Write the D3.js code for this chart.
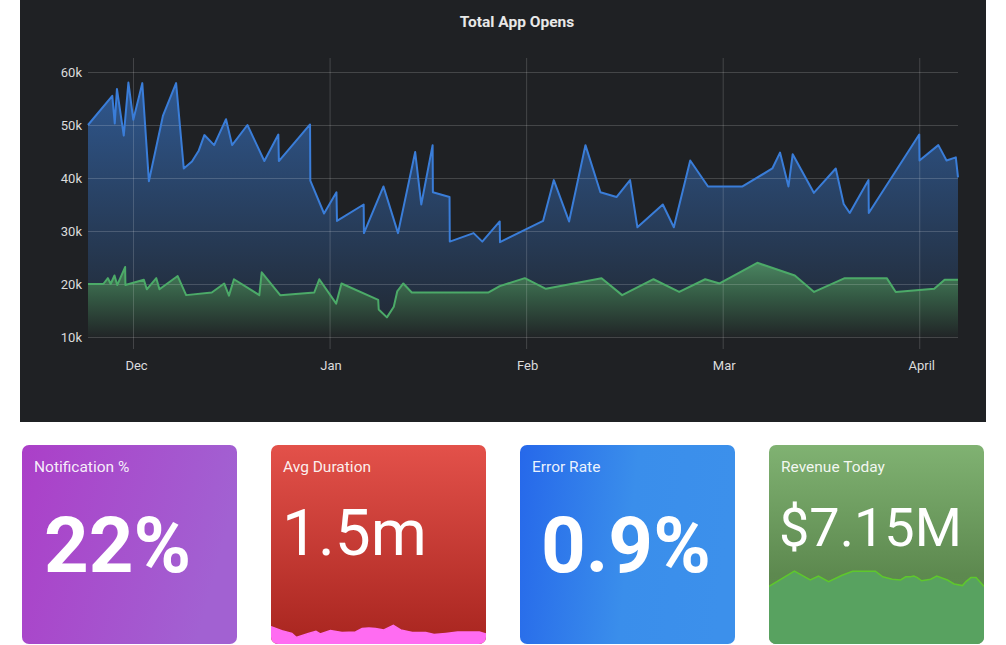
<!DOCTYPE html>
<html><head><meta charset="utf-8">
<script src="https://cdn.jsdelivr.net/npm/d3@7"></script>
<style>
html,body{margin:0;padding:0;background:#fff;}
svg{display:block;font-family:Roboto,"Noto Sans",sans-serif;}
</style></head><body>
<svg id="chart" width="1006" height="645"></svg>
<script>
// ---------- data ----------
const openDates = ["2019-11-24 03","2019-11-27 20","2019-11-28 05","2019-11-28 13","2019-11-29 14","2019-11-30 07","2019-12-01 01","2019-12-02 11","2019-12-03 12","2019-12-05 17","2019-12-07 19","2019-12-09 00","2019-12-10 07","2019-12-11 09","2019-12-12 06","2019-12-13 19","2019-12-15 16","2019-12-16 15","2019-12-19 01","2019-12-21 17","2019-12-23 22","2019-12-24 00","2019-12-28 22","2019-12-28 23","2019-12-31 03","2020-01-02 02","2020-01-02 04","2020-01-06 09","2020-01-06 10","2020-01-09 12","2020-01-11 19","2020-01-14 12","2020-01-15 11","2020-01-17 06","2020-01-17 07","2020-01-19 22","2020-01-19 23","2020-01-23 17","2020-01-25 02","2020-01-27 20","2020-01-27 21","2020-02-03 12","2020-02-05 02","2020-02-07 08","2020-02-09 18","2020-02-11 23","2020-02-14 08","2020-02-16 08","2020-02-17 10","2020-02-21 04","2020-02-22 19","2020-02-25 05","2020-02-27 20","2020-03-04 03","2020-03-08 20","2020-03-10 01","2020-03-11 09","2020-03-12 01","2020-03-15 09","2020-03-18 20","2020-03-20 02","2020-03-21 01","2020-03-24 00","2020-03-24 01","2020-04-01 00","2020-04-01 01","2020-04-03 22","2020-04-05 04","2020-04-06 14","2020-04-06 22"];
const openValues = [50000,55500,50300,56800,48000,58000,51000,57900,39400,51700,57900,41800,43100,45200,48100,46200,51100,46200,50000,43200,48200,43200,50100,39500,33300,37300,31900,35000,29600,38400,29600,44900,35000,46200,37300,36400,28000,29600,28000,31800,27900,31900,39600,31800,46200,37300,36400,39600,30700,35000,30700,43300,38400,38400,41800,44800,38400,44500,37200,41800,35100,33400,39600,33400,48200,43300,46200,43300,43900,40100];

const pushDates = ["2019-11-24 03","2019-11-26 11","2019-11-27 04","2019-11-27 14","2019-11-28 04","2019-11-28 14","2019-11-29 19","2019-11-29 20","2019-12-02 17","2019-12-03 04","2019-12-04 16","2019-12-05 04","2019-12-08 01","2019-12-09 09","2019-12-13 10","2019-12-15 09","2019-12-16 03","2019-12-16 22","2019-12-20 22","2019-12-21 07","2019-12-24 05","2019-12-29 14","2019-12-30 09","2020-01-02 01","2020-01-02 21","2020-01-08 16","2020-01-08 18","2020-01-10 01","2020-01-11 03","2020-01-11 16","2020-01-12 15","2020-01-13 23","2020-01-26 02","2020-01-27 20","2020-01-29 03","2020-01-31 19","2020-02-03 22","2020-02-12 03","2020-02-15 04","2020-02-19 19","2020-02-23 14","2020-02-27 10","2020-02-29 13","2020-03-06 11","2020-03-12 09","2020-03-15 10","2020-03-20 06","2020-03-26 21","2020-03-28 07","2020-04-03 07","2020-04-04 21","2020-04-06 22"];
const pushValues = [20000,20000,21100,20000,21600,19800,23200,19800,20800,19000,21100,19000,21500,17900,18400,20100,17800,20900,17900,22200,17900,18400,20900,16300,20100,17000,15200,13700,15700,18600,20100,18400,18400,19600,20100,21100,19100,21100,17900,20900,18500,20900,20100,24000,21600,18500,21100,21100,18500,19100,20800,20800];

const yTickValues = [10000,20000,30000,40000,50000,60000];
const yTickLabels = ["10k","20k","30k","40k","50k","60k"];
const monthTickDates = ["2019-12-01 00","2020-01-01 00","2020-02-01 00","2020-03-01 00","2020-04-01 00"];
const monthTickLabels = ["Dec","Jan","Feb","Mar","April"];
const chartTitle = "Total App Opens";

const cardTitles = ["Notification %","Avg Duration","Error Rate","Revenue Today"];
const cardValues = ["22%","1.5m","0.9%","$7.15M"];

const durationSparkT = [0,5,9.7,11.7,17.4,20.9,22.9,27.6,33,39.3,42.4,45.5,48.6,52.5,56.9,60.3,65.7,72,75.8,81.3,86.8,96.9,100];
const durationSparkV = [87,67,53,33,53,63,50,67,57,60,77,80,77,70,93,70,57,57,47,53,60,60,50];
const revenueSparkT = [0,11.8,19.2,23,27.7,34,38.9,49.5,52.9,57.3,61.2,63.6,65.9,67.4,69,71,75.2,78,83,86.1,90,91.6,93.9,96.3,100];
const revenueSparkV = [72,91,80,85,78,86,91,91,84,81,80,84,84,85,83,79,81,85,80,75,73,78,83,83,72];

// ---------- layout / styles ----------
const svg = d3.select("#chart");
const defs = svg.append("defs");
const parse = d3.utcParse("%Y-%m-%d %H");

function monthPos(d){
  const m0 = d3.utcMonth.floor(d), m1 = d3.utcMonth.offset(m0,1);
  const idx = (m0.getUTCFullYear()-2019)*12 + m0.getUTCMonth() - 11;
  return idx + (d - m0)/(m1 - m0);
}

const openData = openDates.map((d,i)=>({p:monthPos(parse(d)), v:openValues[i]}));
const pushData = pushDates.map((d,i)=>({p:monthPos(parse(d)), v:pushValues[i]}));

const plot = {left:88, right:958, top:72, bottom:337};
const x = d3.scaleLinear()
  .domain([openData[0].p, openData[openData.length-1].p])
  .range([plot.left, plot.right]);
const y = d3.scaleLinear().domain([10000,60000]).range([plot.bottom, plot.top]);

// panel
svg.append("rect").attr("x",20).attr("y",0).attr("width",966).attr("height",422).attr("fill","#1f2124");

svg.append("text").attr("x",517).attr("y",27).attr("text-anchor","middle")
  .attr("fill","#e8e8e8").attr("font-size",15.5).attr("font-weight",700).text(chartTitle);

// gradients
const gBlue = defs.append("linearGradient").attr("id","gBlue").attr("gradientUnits","userSpaceOnUse")
  .attr("x1",0).attr("x2",0).attr("y1",plot.top).attr("y2",plot.bottom);
gBlue.append("stop").attr("offset",0).attr("stop-color","#3a7dd8").attr("stop-opacity",0.62);
gBlue.append("stop").attr("offset",1).attr("stop-color","#3a7dd8").attr("stop-opacity",0.07);

const gGreen = defs.append("linearGradient").attr("id","gGreen").attr("gradientUnits","userSpaceOnUse")
  .attr("x1",0).attr("x2",0).attr("y1",y(24000)).attr("y2",plot.bottom);
gGreen.append("stop").attr("offset",0).attr("stop-color","#4a8460");
gGreen.append("stop").attr("offset",0.45).attr("stop-color","#345a44");
gGreen.append("stop").attr("offset",1).attr("stop-color","#212527");

const area = d3.area().x(d=>x(d.p)).y0(y(10000)).y1(d=>y(d.v));
const line = d3.line().x(d=>x(d.p)).y(d=>y(d.v));

svg.append("path").datum(openData).attr("d",area).attr("fill","url(#gBlue)");
svg.append("path").datum(pushData).attr("d",area).attr("fill","url(#gGreen)");

// grid
const yAxis = d3.axisLeft(y).tickValues(yTickValues).tickFormat((d,i)=>yTickLabels[i])
  .tickSize(-(plot.right-plot.left)).tickPadding(6);
const gy = svg.append("g").attr("transform",`translate(${plot.left},0)`).call(yAxis);
gy.select(".domain").remove();
gy.selectAll("line").attr("stroke","#fff").attr("stroke-opacity",0.17);
gy.selectAll("text").attr("fill","#dcdcdc").attr("font-size",13).attr("font-family","Roboto");

const monthPositions = monthTickDates.map(d=>monthPos(parse(d)));
const xAxis = d3.axisBottom(x).tickValues(monthPositions).tickFormat((d,i)=>monthTickLabels[i])
  .tickSize(-(349-58)).tickPadding(12);
const gx = svg.append("g").attr("transform",`translate(0,349)`).call(xAxis);
gx.select(".domain").remove();
gx.selectAll("line").attr("stroke","#fff").attr("stroke-opacity",0.17);
gx.selectAll("text").attr("fill","#dcdcdc").attr("font-size",13).attr("font-family","Roboto")
  .attr("dx",(d,i)=> i===0 ? 3 : (i===4 ? 2 : 1));

svg.append("path").datum(openData).attr("d",line).attr("fill","none").attr("stroke","#3a7dd8").attr("stroke-width",2).attr("stroke-linejoin","round");
svg.append("path").datum(pushData).attr("d",line).attr("fill","none").attr("stroke","#4caa68").attr("stroke-width",2).attr("stroke-linejoin","round");

// ---------- cards ----------
const card = {x0:22, step:249, y:445, w:215, h:199, r:7};
const cardStyles = [
  {grad:[["#ab3fc8",0],["#a261d2",1]], dir:[0,0,1,0.25], weight:700, size:78, dx:22, by:572},
  {grad:[["#e3514a",0],["#a8251f",1]], dir:[0,0,0,1], weight:400, size:64, dx:11, by:555},
  {grad:[["#2668ea",0],["#3a8eeb",0.55],["#3c90eb",1]], dir:[0,0,1,0.1], weight:700, size:78, dx:21, by:572},
  {grad:[["#80b272",0],["#5d894f",0.65],["#5a854c",1]], dir:[0,0,0,1], weight:400, size:54, dx:10, by:546}
];
const sparks = [null,
  {t:durationSparkT, v:durationSparkV, h:20, fill:"#ff6cf2", stroke:"#ff6cf2"},
  null,
  {t:revenueSparkT, v:revenueSparkV, h:80, fill:"#58a260", stroke:"#5ec82c"}];

cardTitles.forEach((title,i)=>{
  const cx = card.x0 + i*card.step, st = cardStyles[i];
  const g = svg.append("g");
  const gr = defs.append("linearGradient").attr("id","card"+i)
    .attr("x1",st.dir[0]).attr("y1",st.dir[1]).attr("x2",st.dir[2]).attr("y2",st.dir[3]);
  st.grad.forEach(s=>gr.append("stop").attr("offset",s[1]).attr("stop-color",s[0]));
  defs.append("clipPath").attr("id","clip"+i).append("rect")
    .attr("x",cx).attr("y",card.y).attr("width",card.w).attr("height",card.h).attr("rx",card.r);
  g.append("rect").attr("x",cx).attr("y",card.y).attr("width",card.w).attr("height",card.h)
    .attr("rx",card.r).attr("fill",`url(#card${i})`);
  const sp = sparks[i];
  if(sp){
    const sx = d3.scaleLinear().domain([0,100]).range([cx, cx+card.w]);
    const sy = d3.scaleLinear().domain([0,100]).range([card.y+card.h, card.y+card.h-sp.h]);
    const pts = sp.t.map((t,k)=>[t, sp.v[k]]);
    const sg = g.append("g").attr("clip-path",`url(#clip${i})`);
    sg.append("path").datum(pts).attr("d",d3.area().x(d=>sx(d[0])).y0(card.y+card.h+5).y1(d=>sy(d[1])))
      .attr("fill",sp.fill);
    sg.append("path").datum(pts).attr("d",d3.line().x(d=>sx(d[0])).y(d=>sy(d[1])))
      .attr("fill","none").attr("stroke",sp.stroke).attr("stroke-width",1.5);
  }
  g.append("text").attr("x",cx+12).attr("y",card.y+27).attr("fill","#fff").attr("fill-opacity",0.92)
    .attr("font-size",15.5).text(title);
  g.append("text").attr("x",cx+st.dx).attr("y",st.by).attr("fill","#fff")
    .attr("font-size",st.size).attr("font-weight",st.weight).text(cardValues[i]);
});
</script>
</body></html>
